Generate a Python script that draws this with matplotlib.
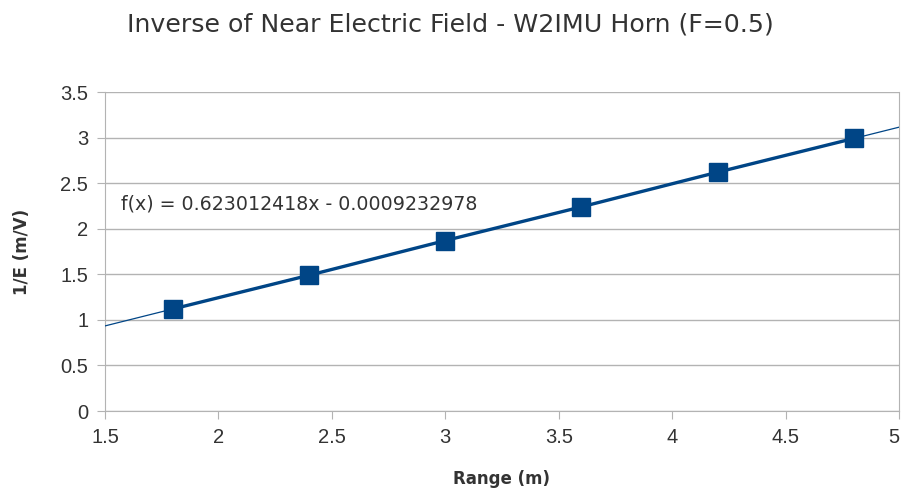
import matplotlib
matplotlib.use('Agg')
import matplotlib.pyplot as plt
import numpy as np

plt.rcParams['font.family'] = ['DejaVu Sans']

range_m = [1.8, 2.4, 3.0, 3.6, 4.2, 4.8]
inv_e = [1.12, 1.49, 1.87, 2.24, 2.62, 2.99]
slope = 0.623012418
intercept = -0.0009232978

blue = '#004586'
grey = '#b3b3b3'
txt = '#333333'

fig = plt.figure(figsize=(9.01, 4.91), dpi=100)
ax = fig.add_axes([0.1165, 0.1629, 0.8813, 0.6497])

# trend line over the whole x range
xt = np.array([1.5, 5.0])
ax.plot(xt, slope * xt + intercept, color=blue, lw=0.9, zorder=3)
ax.plot(range_m, inv_e, color=blue, lw=2.4, marker='s', markersize=12.5, zorder=4)

ax.text(1.57, 2.27, 'f(x) = %.9fx - %.10f' % (slope, -intercept),
        fontsize=13.7, color=txt, va='center')

ax.set_xlim(1.5, 5)
ax.set_ylim(0, 3.5)
ax.set_xticks(np.arange(1.5, 5.01, 0.5))
ax.set_yticks(np.arange(0, 3.51, 0.5))
ax.set_xticklabels(['1.5', '2', '2.5', '3', '3.5', '4', '4.5', '5'])
ax.set_yticklabels(['0', '0.5', '1', '1.5', '2', '2.5', '3', '3.5'])
for lab in ax.get_xticklabels() + ax.get_yticklabels():
    lab.set_fontfamily(['Liberation Sans', 'DejaVu Sans'])
ax.get_xticklabels()[-1].set_horizontalalignment('right')
ax.grid(axis='y', color=grey, lw=1)
ax.set_axisbelow(True)
ax.spines['top'].set_visible(False)
for s in ['left', 'bottom', 'right']:
    ax.spines[s].set_color(grey)
ax.tick_params(colors=grey, labelcolor=txt, labelsize=14.5, length=6, direction='out')
ax.tick_params(axis='x', pad=6)
ax.tick_params(axis='y', pad=6)

ax.set_xlabel('Range (m)', fontsize=12, fontweight='semibold', color=txt)
ax.set_ylabel('1/E (m/V)', fontsize=12, fontweight='semibold', color=txt)
ax.xaxis.set_label_coords(0.5, -0.185)
ax.yaxis.set_label_coords(-0.093, 0.5)
fig.suptitle('Inverse of Near Electric Field - W2IMU Horn (F=0.5)', fontsize=18.2,
             color=txt, y=0.951, va='center')

rect = fig.patch
rect.set_facecolor('white')
fig.savefig('out.png', dpi=100)
